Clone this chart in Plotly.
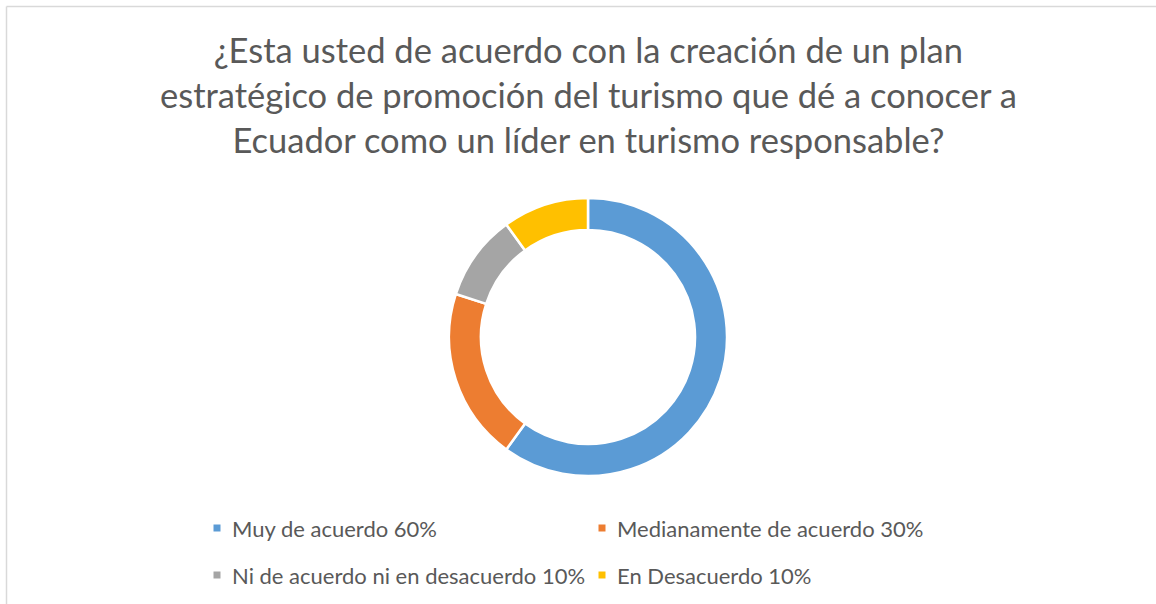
import plotly.graph_objects as go

categories = ["Muy de acuerdo 60%", "Medianamente de acuerdo 30%",
              "Ni de acuerdo ni en desacuerdo 10%", "En Desacuerdo 10%"]
values = [60, 20, 10, 10]
colors = ["#5B9BD5", "#ED7D31", "#A5A5A5", "#FFC000"]
title_text = ("¿Esta usted de acuerdo con la creación de un plan<br>"
              "estratégico de promoción del turismo que dé a conocer a<br>"
              "Ecuador como un líder en turismo responsable?")

W, H = 1156, 604
cx, cy, R = 588, 337, 139

fig = go.Figure(go.Pie(
    labels=categories, values=values, sort=False, direction="clockwise",
    rotation=0, hole=0.77, textinfo="none", hoverinfo="label+percent",
    marker=dict(colors=colors, line=dict(color="white", width=2.5)),
    domain=dict(x=[(cx - R) / W, (cx + R) / W],
                y=[(H - cy - R) / H, (H - cy + R) / H]),
    showlegend=False,
))

# custom legend laid out in two columns, like the reference
col_x = [217, 602]
row_y = [528, 575]
shapes = []
annotations = []
for i, (lab, col) in enumerate(zip(categories, colors)):
    x = col_x[i % 2]
    y = row_y[i // 2]
    shapes.append(dict(type="rect", xref="paper", yref="paper",
                       x0=(x - 3.5) / W, x1=(x + 3.5) / W,
                       y0=1 - (y + 3.5) / H, y1=1 - (y - 3.5) / H,
                       fillcolor=col, line=dict(width=0)))
    annotations.append(dict(text=lab, xref="paper", yref="paper",
                            x=(x + 13) / W, y=1 - y / H, xanchor="left", yanchor="middle",
                            showarrow=False,
                            font=dict(size=22, color="#595959", family="Lato, sans-serif")))

shapes += [
    dict(type="line", xref="paper", yref="paper", x0=6.5 / W, x1=1, y0=1 - 6.5 / H, y1=1 - 6.5 / H,
         line=dict(color="#D9D9D9", width=1.5)),
    dict(type="line", xref="paper", yref="paper", x0=6.5 / W, x1=6.5 / W, y0=0, y1=1 - 6.5 / H,
         line=dict(color="#D9D9D9", width=1.5)),
]

fig.update_layout(
    width=W, height=H, margin=dict(l=0, r=0, t=0, b=0),
    paper_bgcolor="white", plot_bgcolor="white",
    font=dict(family="Lato, Open Sans, sans-serif", color="#595959"),
    title=dict(text=title_text, x=0.509, xanchor="center", y=0.896, yanchor="top",
               yref="container",
               font=dict(size=34.5, color="#595959", family="Lato, sans-serif")),
    showlegend=False,
    shapes=shapes,
    annotations=annotations,
)

fig.write_html("out.html", config={"displayModeBar": False},
               post_script="document.body.style.margin='0px';")
